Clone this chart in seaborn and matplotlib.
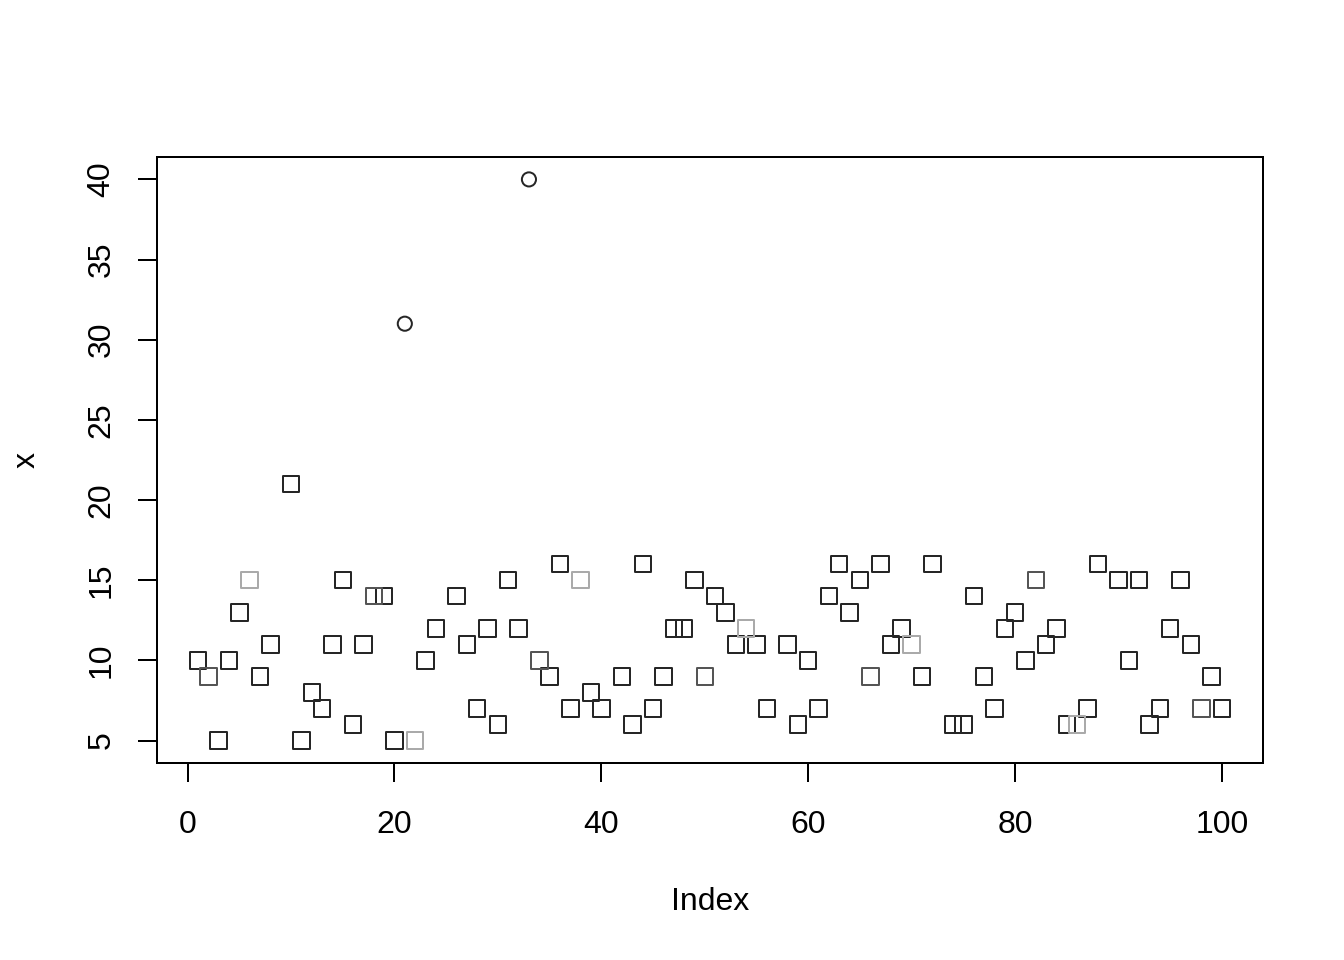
import numpy as np
import pandas as pd
import matplotlib
matplotlib.use("Agg")
import matplotlib.pyplot as plt
import seaborn as sns

# values (index 1..100, NaN = missing point)
nan = np.nan
x_values = [
    10, 9, 5, 10, 13, 15, 9, 11, nan, 21,
    5, 8, 7, 11, 15, 6, 11, 14, 14, 5,
    31, 5, 10, 12, nan, 14, 11, 7, 12, 6,
    15, 12, 40, 10, 9, 16, 7, 15, 8, 7,
    nan, 9, 6, 16, 7, 9, 12, 12, 15, 9,
    14, 13, 11, 12, 11, 7, nan, 11, 6, 10,
    7, 14, 16, 13, 15, 9, 16, 11, 12, 11,
    9, 16, nan, 6, 6, 14, 9, 7, 12, 13,
    10, 15, 11, 12, 6, 6, 7, 16, nan, 15,
    10, 15, 6, 7, 12, 15, 11, 7, 9, 7,
]
index = list(range(1, 101))

# indices drawn in dark grey / light grey, and those drawn as circles
dark_idx = [2, 18, 34, 50, 66, 82, 98]
light_idx = [6, 22, 38, 54, 70, 86]
circle_idx = [21, 33]

df = pd.DataFrame({"Index": index, "x": x_values})
df["shade"] = "black"
df.loc[df["Index"].isin(dark_idx), "shade"] = "dark"
df.loc[df["Index"].isin(light_idx), "shade"] = "light"
df["shape"] = np.where(df["Index"].isin(circle_idx), "circle", "square")
df = df.dropna()

shade_colors = {"black": "#262626", "dark": "#555555", "light": "#aaaaaa"}
shape_markers = {"square": "s", "circle": "o"}
shape_sizes = {"square": 38, "circle": 28}

sns.set_style("white")
plt.rcParams["font.family"] = ["Liberation Sans", "DejaVu Sans"]
plt.rcParams["text.color"] = "black"
plt.rcParams["axes.labelcolor"] = "black"

fig = plt.figure(figsize=(7, 5), dpi=192)
ax = fig.add_axes([0.1168, 0.2052, 0.8229, 0.6313])

for (shade, shape), grp in df.groupby(["shade", "shape"]):
    sns.scatterplot(
        data=grp, x="Index", y="x", ax=ax,
        marker=shape_markers[shape], s=shape_sizes[shape],
        facecolor="none", edgecolor=shade_colors[shade], linewidth=0.75,
        legend=False,
    )

ax.set_xlim(-2.96, 103.96)
ax.set_ylim(3.6, 41.4)
ax.set_xticks([0, 20, 40, 60, 80, 100])
ax.set_yticks([5, 10, 15, 20, 25, 30, 35, 40])

for side in ax.spines.values():
    side.set_color("black")
    side.set_linewidth(0.75)

ax.tick_params(axis="both", direction="out", length=7.2, width=0.75,
               colors="black", labelcolor="black", labelsize=12,
               bottom=True, left=True)
ax.tick_params(axis="x", pad=10.5)
ax.tick_params(axis="y", pad=8)
for lbl in ax.get_yticklabels():
    lbl.set_rotation(90)
    lbl.set_va("center")

ax.set_xlabel("Index", fontsize=12, color="black")
ax.set_ylabel("x", fontsize=12, color="black")
ax.xaxis.label.set_va("center")
ax.yaxis.label.set_va("center")
ax.xaxis.set_label_coords(0.5, (763 - 902) / 606)
ax.yaxis.set_label_coords((27 - 157) / 1106, 0.5)

fig.savefig("out.png", dpi=192, facecolor="white")
